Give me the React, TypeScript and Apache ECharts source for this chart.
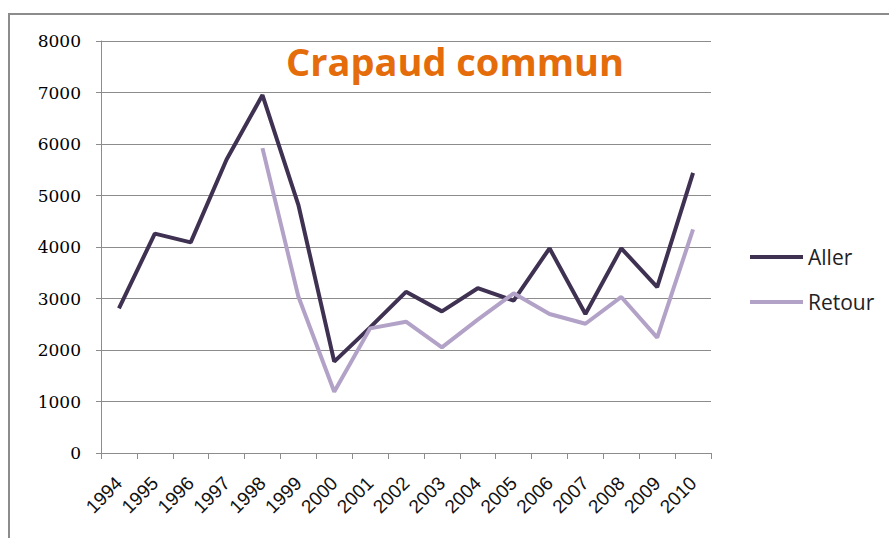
import React, { useEffect, useRef } from "react";
import * as echarts from "echarts";

const years = ["1994","1995","1996","1997","1998","1999","2000","2001","2002","2003","2004","2005","2006","2007","2008","2009","2010"];
const aller = [2810, 4260, 4090, 5700, 6950, 4820, 1775, 2440, 3130, 2750, 3200, 2960, 3975, 2700, 3975, 3220, 5440];
const retour = [null, null, null, null, 5920, 3040, 1190, 2420, 2550, 2050, 2590, 3100, 2700, 2510, 3030, 2240, 4340];
const yTicks = { min: 0, max: 8000, interval: 1000 };

export default function App() {
  const ref = useRef<HTMLDivElement>(null);
  useEffect(() => {
    if (!ref.current) return;
    const chart = echarts.init(ref.current, undefined, { renderer: "svg" });
    chart.setOption({
      animation: false,
      backgroundColor: "#ffffff",
      title: {
        text: "Crapaud commun",
        left: 450,
        textAlign: "center",
        top: 37,
        textStyle: { color: "#e46c0a", fontFamily: "Open Sans", fontWeight: "bold", fontSize: 38 },
      },
      graphic: [
        {
          type: "rect",
          shape: { x: 9, y: 14, width: 1000, height: 1000 },
          style: { fill: "none", stroke: "#8c8c8c", lineWidth: 2 },
          silent: true,
        },
      ],
      legend: {
        orient: "vertical",
        left: 750,
        top: 245,
        padding: 0,
        icon: "rect",
        itemWidth: 53,
        itemHeight: 4,
        itemGap: 21,
        data: ["Aller", "Retour"],
        textStyle: { fontFamily: "Open Sans", fontSize: 21, color: "#222", lineHeight: 24 },
      },
      grid: { left: 101, right: 178, top: 41, bottom: 85 },
      xAxis: {
        type: "category",
        data: years,
        boundaryGap: true,
        axisLine: { lineStyle: { color: "#8c8c8c", width: 1 } },
        axisTick: { show: true, length: 6, lineStyle: { color: "#8c8c8c" } },
        axisLabel: {
          rotate: 45,
          margin: 27,
          interval: 0,
          fontFamily: "Liberation Sans",
          fontSize: 19,
          color: "#111",
        },
      },
      yAxis: {
        type: "value",
        min: yTicks.min,
        max: yTicks.max,
        interval: yTicks.interval,
        axisLine: { show: true, lineStyle: { color: "#8c8c8c", width: 1 } },
        axisTick: { show: true, length: 5, lineStyle: { color: "#8c8c8c" } },
        splitLine: { show: true, lineStyle: { color: "#8c8c8c", width: 1 } },
        axisLabel: {
          margin: 20,
          fontFamily: "DejaVu Serif",
          fontSize: 17,
          color: "#000",
          formatter: (v: number) => String(v),
        },
      },
      series: [
        {
          name: "Aller",
          type: "line",
          data: aller,
          symbol: "none",
          color: "#3f3151",
          lineStyle: { color: "#3f3151", width: 4 },
        },
        {
          name: "Retour",
          type: "line",
          data: retour,
          symbol: "none",
          color: "#b3a2c7",
          lineStyle: { color: "#b3a2c7", width: 4 },
        },
      ],
    });
    return () => chart.dispose();
  }, []);
  return <div ref={ref} style={{ position: "absolute", left: 0, top: 0, width: 889, height: 538 }} />;
}
